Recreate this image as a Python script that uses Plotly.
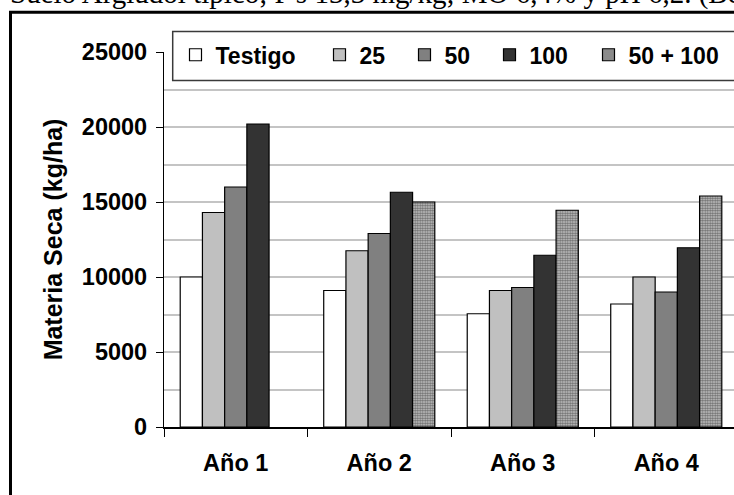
import plotly.graph_objects as go

categories = ["Año 1", "Año 2", "Año 3", "Año 4"]
series_names = ["Testigo", "25", "50", "100", "50 + 100"]
testigo = [10000, 9100, 7550, 8200]
dosis_25 = [14300, 11750, 9100, 10000]
dosis_50 = [16000, 12900, 9300, 9000]
dosis_100 = [20200, 15650, 11450, 11950]
dosis_50_100 = [None, 15000, 14450, 15400]
y_ticks = [0, 5000, 10000, 15000, 20000, 25000]
caption = "Suelo Argiudol típico; P's 13,3 mg/kg; MO 6,4% y pH 6,2. (Be"
y_title = "Materia Seca (kg/ha)"

series_values = [testigo, dosis_25, dosis_50, dosis_100, dosis_50_100]
colors = ["#ffffff", "#c0c0c0", "#808080", "#333333", "#9a9a9a"]
legend_widths = [99, 40, 40, 54, None]

W, H = 734, 495
L, R, T, B = 164, 0, 51.7, 68.3
pw, ph = W - L - R, H - T - B

def px(x):
    return (x - L) / pw

def py(y):
    return (H - B - y) / ph

FONT = "Liberation Sans, Arial, sans-serif"

fig = go.Figure()
for i, (name, vals) in enumerate(zip(series_names, series_values)):
    marker = dict(color=colors[i], line=dict(color="#000000", width=1.2))
    if name == "50 + 100":
        marker["pattern"] = dict(shape=".", size=2.5, solidity=0.65,
                                 fgcolor="#000000", bgcolor="#d4d4d4")
    kw = {}
    if legend_widths[i]:
        kw["legendwidth"] = legend_widths[i]
    fig.add_trace(go.Bar(name=name, x=categories, y=vals, marker=marker, **kw))

fig.update_layout(
    width=W, height=H,
    margin=dict(l=L, r=R, t=T, b=B, pad=0),
    paper_bgcolor="white", plot_bgcolor="white",
    barmode="group", bargap=0.226, bargroupgap=0,
    font=dict(family=FONT, color="#000000"),
    showlegend=True,
    legend=dict(orientation="h", x=px(175.5), xanchor="left",
                y=py(54.5), yanchor="middle",
                bgcolor="rgba(0,0,0,0)", borderwidth=0,
                font=dict(family=FONT, size=23, color="#000000", weight="bold"),
                traceorder="normal"),
)

fig.update_xaxes(
    type="category", range=[-0.5, 3.472],
    showline=True, linecolor="#000000", linewidth=1.5,
    ticks="outside", tickson="boundaries", ticklen=8, tickwidth=1.2, tickcolor="#000000",
    tickfont=dict(family=FONT, size=23.5, weight="bold", color="#000000"),
    ticklabelstandoff=14,
    showgrid=False, zeroline=False,
)
fig.update_yaxes(
    range=[0, 25000], tickvals=y_ticks, ticktext=[str(v) for v in y_ticks],
    showline=True, linecolor="#000000", linewidth=1.2,
    ticks="outside", ticklen=7, tickwidth=1.2, tickcolor="#000000",
    tickfont=dict(family=FONT, size=23.5, weight="bold", color="#000000"),
    ticklabelstandoff=4,
    showgrid=True, gridcolor="#c4c4c4", gridwidth=1.5,
    minor=dict(dtick=2500, showgrid=True, gridcolor="#c4c4c4", gridwidth=1.5, ticks=""),
    zeroline=False,
    title=dict(text=y_title, standoff=12,
               font=dict(family=FONT, size=25, weight="bold", color="#000000")),
)

# legend box
fig.add_shape(type="rect", xref="paper", yref="paper",
              x0=px(172.7), x1=px(760), y0=py(80.3), y1=py(31.3),
              line=dict(color="#3a3a3a", width=1.5), fillcolor="white", layer="above")
# page frame
fig.add_shape(type="rect", xref="paper", yref="paper",
              x0=px(10.5), x1=px(780), y0=py(520), y1=py(12),
              line=dict(color="#000000", width=3), fillcolor="rgba(0,0,0,0)", layer="above")

fig.add_annotation(text=caption, xref="paper", yref="paper",
                   x=px(8), xanchor="left", y=py(12), yanchor="bottom",
                   showarrow=False,
                   font=dict(family="Liberation Serif, Times New Roman, serif", size=29, color="#000000"))

fig.write_html("out.html", config={"displayModeBar": False},
               post_script="document.body.style.margin='0';document.body.style.overflow='hidden';")
